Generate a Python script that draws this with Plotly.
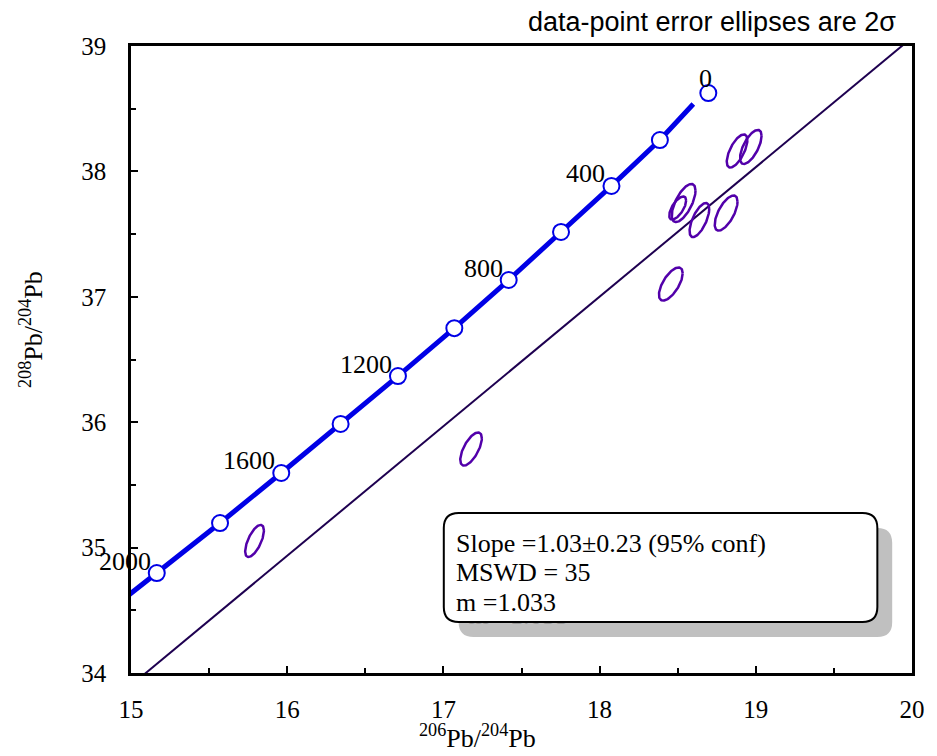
import numpy as np
import plotly.graph_objects as go

# ---------------- data ----------------
# measured samples (206Pb/204Pb, 208Pb/204Pb), 2-sigma half-errors, error correlation
sample_x = [18.880, 18.968, 18.538, 18.500, 18.639, 18.810, 18.456, 17.177, 15.791]
sample_y = [38.163, 38.195, 37.748, 37.708, 37.612, 37.668, 37.102, 35.786, 35.053]
err_x = [0.066, 0.069, 0.076, 0.054, 0.063, 0.073, 0.076, 0.069, 0.060]
err_y = [0.132, 0.136, 0.152, 0.092, 0.136, 0.140, 0.132, 0.132, 0.128]
rho = [0.65, 0.65, 0.65, 0.65, 0.65, 0.65, 0.65, 0.65, 0.65]

# model growth curve ticks (age in Ma)
ages = [0, 200, 400, 600, 800, 1000, 1200, 1400, 1600, 1800, 2000]
model_x = [18.696, 18.386, 18.076, 17.753, 17.418, 17.070, 16.709, 16.342, 15.962, 15.570, 15.165]
model_y = [38.625, 38.250, 37.884, 37.517, 37.134, 36.750, 36.368, 35.986, 35.595, 35.196, 34.797]
labelled_ages = [0, 400, 800, 1200, 1600, 2000]

# growth-curve line vertices (drawn segment)
curve_x = [14.760, 15.165, 15.570, 15.962, 16.342, 16.709, 17.070, 17.418, 17.753, 18.076, 18.386, 18.600]
curve_y = [34.400, 34.797, 35.196, 35.595, 35.986, 36.368, 36.750, 37.134, 37.517, 37.884, 38.250, 38.537]

# regression line
fit_slope = 1.033
fit_intercept = 18.407

stats_lines = ["Slope =1.03±0.23 (95% conf)", "MSWD = 35", "m =1.033"]
title_text = "data-point error ellipses are 2σ"

x_ticks = [15, 16, 17, 18, 19, 20]
y_ticks = [34, 35, 36, 37, 38, 39]

# ---------------- layout geometry ----------------
W, H = 937, 756
L, R, T, B = 131, 920, 46, 673
XR = (15, 20)
YR = (34, 39)

def px2paper(px, py):
    return (px - L) / (R - L), (B - py) / (B - T)

def px2data(px, py):
    a, b = px2paper(px, py)
    return XR[0] + a * (XR[1] - XR[0]), YR[0] + b * (YR[1] - YR[0])

def rounded_rect(x0, y0, x1, y1, r):
    def P(px, py):
        a, b = px2paper(px, py)
        return f"{a:.5f},{b:.5f}"
    return (f"M {P(x0 + r, y0)} L {P(x1 - r, y0)} Q {P(x1, y0)} {P(x1, y0 + r)} "
            f"L {P(x1, y1 - r)} Q {P(x1, y1)} {P(x1 - r, y1)} "
            f"L {P(x0 + r, y1)} Q {P(x0, y1)} {P(x0, y1 - r)} "
            f"L {P(x0, y0 + r)} Q {P(x0, y0)} {P(x0 + r, y0)} Z")

SERIF = "Liberation Serif, Times New Roman, serif"
SANS = "Liberation Sans, Arial, sans-serif"
FS = 26

fig = go.Figure()

# regression line
lx = np.array(XR, dtype=float)
fig.add_trace(go.Scatter(x=lx, y=fit_slope * lx + fit_intercept, mode="lines",
                         line=dict(color="#1E0050", width=2), hoverinfo="skip",
                         showlegend=False))

# error ellipses
t = np.linspace(0, 2 * np.pi, 120)
for cx, cy, sx, sy, r in zip(sample_x, sample_y, err_x, err_y, rho):
    ex = cx + sx * np.cos(t)
    ey = cy + sy * (r * np.cos(t) + np.sqrt(1 - r * r) * np.sin(t))
    fig.add_trace(go.Scatter(x=ex, y=ey, mode="lines",
                             line=dict(color="#5200AA", width=2.5),
                             hoverinfo="skip", showlegend=False))

# growth curve line
fig.add_trace(go.Scatter(x=curve_x, y=curve_y, mode="lines",
                         line=dict(color="#0000E6", width=5), hoverinfo="skip",
                         showlegend=False))
# growth curve markers
fig.add_trace(go.Scatter(x=model_x, y=model_y, mode="markers",
                         marker=dict(size=16, color="white",
                                     line=dict(color="#0000E6", width=2)),
                         showlegend=False))

# ghost (shadow) text visible under the box
gx, gy = [], []
for i, _ in enumerate(stats_lines):
    dx, dy = px2data(457 + 15, 543 + 29.5 * i + 15)
    gx.append(dx)
    gy.append(dy)
fig.add_trace(go.Scatter(x=gx, y=gy, mode="text", text=stats_lines,
                         textposition="middle right",
                         textfont=dict(family=SERIF, size=FS, color="#9A9A9A"),
                         hoverinfo="skip", showlegend=False))

shapes = [
    dict(type="path", xref="paper", yref="paper", layer="below",
         path=rounded_rect(462, 528, 900, 637, 15),
         fillcolor="#C0C0C0", line=dict(width=0)),
    dict(type="path", xref="paper", yref="paper", layer="above",
         path=rounded_rect(447, 513, 885, 622, 15),
         fillcolor="white", line=dict(color="black", width=2)),
]

annotations = []
# age labels
for a, mx, my in zip(ages, model_x, model_y):
    if a not in labelled_ages:
        continue
    if a == 0:
        annotations.append(dict(x=mx, y=my, text=str(a), showarrow=False,
                                xanchor="center", yanchor="middle",
                                xshift=-3, yshift=15,
                                font=dict(family=SERIF, size=FS, color="black")))
    else:
        annotations.append(dict(x=mx, y=my, text=str(a), showarrow=False,
                                xanchor="right", yanchor="middle",
                                xshift=-4, yshift=12,
                                font=dict(family=SERIF, size=FS, color="black")))

# stats text
for i, s in enumerate(stats_lines):
    ax, ay = px2paper(457, 543 + 29.5 * i)
    annotations.append(dict(xref="paper", yref="paper", x=ax, y=ay, text=s,
                            showarrow=False, xanchor="left", yanchor="middle",
                            font=dict(family=SERIF, size=FS, color="black")))

# title
tx, ty = px2paper(906, 22)
annotations.append(dict(xref="paper", yref="paper", x=tx, y=ty, text=title_text,
                        showarrow=False, xanchor="right", yanchor="middle",
                        font=dict(family=SANS, size=27, color="black")))
# axis titles
ax_, ay_ = px2paper(481, 736)
annotations.append(dict(xref="paper", yref="paper", x=ax_, y=ay_,
                        text="<sup>206</sup>Pb/<sup>204</sup>Pb", showarrow=False,
                        xanchor="center", yanchor="middle",
                        font=dict(family=SERIF, size=FS, color="black")))
bx_, by_ = px2paper(30, 330)
annotations.append(dict(xref="paper", yref="paper", x=bx_, y=by_,
                        text="<sup>208</sup>Pb/<sup>204</sup>Pb", showarrow=False,
                        textangle=-90, xanchor="center", yanchor="middle",
                        font=dict(family=SERIF, size=FS, color="black")))

axis_common = dict(showgrid=False, zeroline=False, showline=True, linecolor="black",
                   linewidth=2.5, mirror=True, ticks="inside", ticklen=7,
                   tickwidth=2, tickcolor="black",
                   tickfont=dict(family=SERIF, size=25, color="black"),
                   minor=dict(ticks="inside", ticklen=5, tickwidth=2,
                              tickcolor="black", dtick=0.5, showgrid=False))

fig.update_layout(
    width=W, height=H, autosize=False,
    margin=dict(l=L, r=W - R, t=T, b=H - B, pad=0),
    paper_bgcolor="white", plot_bgcolor="white",
    xaxis=dict(range=list(XR), tickvals=x_ticks, ticktext=[str(v) for v in x_ticks],
               ticklabelstandoff=12, **axis_common),
    yaxis=dict(range=list(YR), tickvals=y_ticks, ticktext=[str(v) for v in y_ticks],
               ticklabelstandoff=17, **axis_common),
    shapes=shapes, annotations=annotations, showlegend=False,
)

fig.write_html("out.html", config={"responsive": False, "displayModeBar": False},
               post_script="document.body.style.margin='0px';"
                           "document.body.style.overflow='hidden';")
